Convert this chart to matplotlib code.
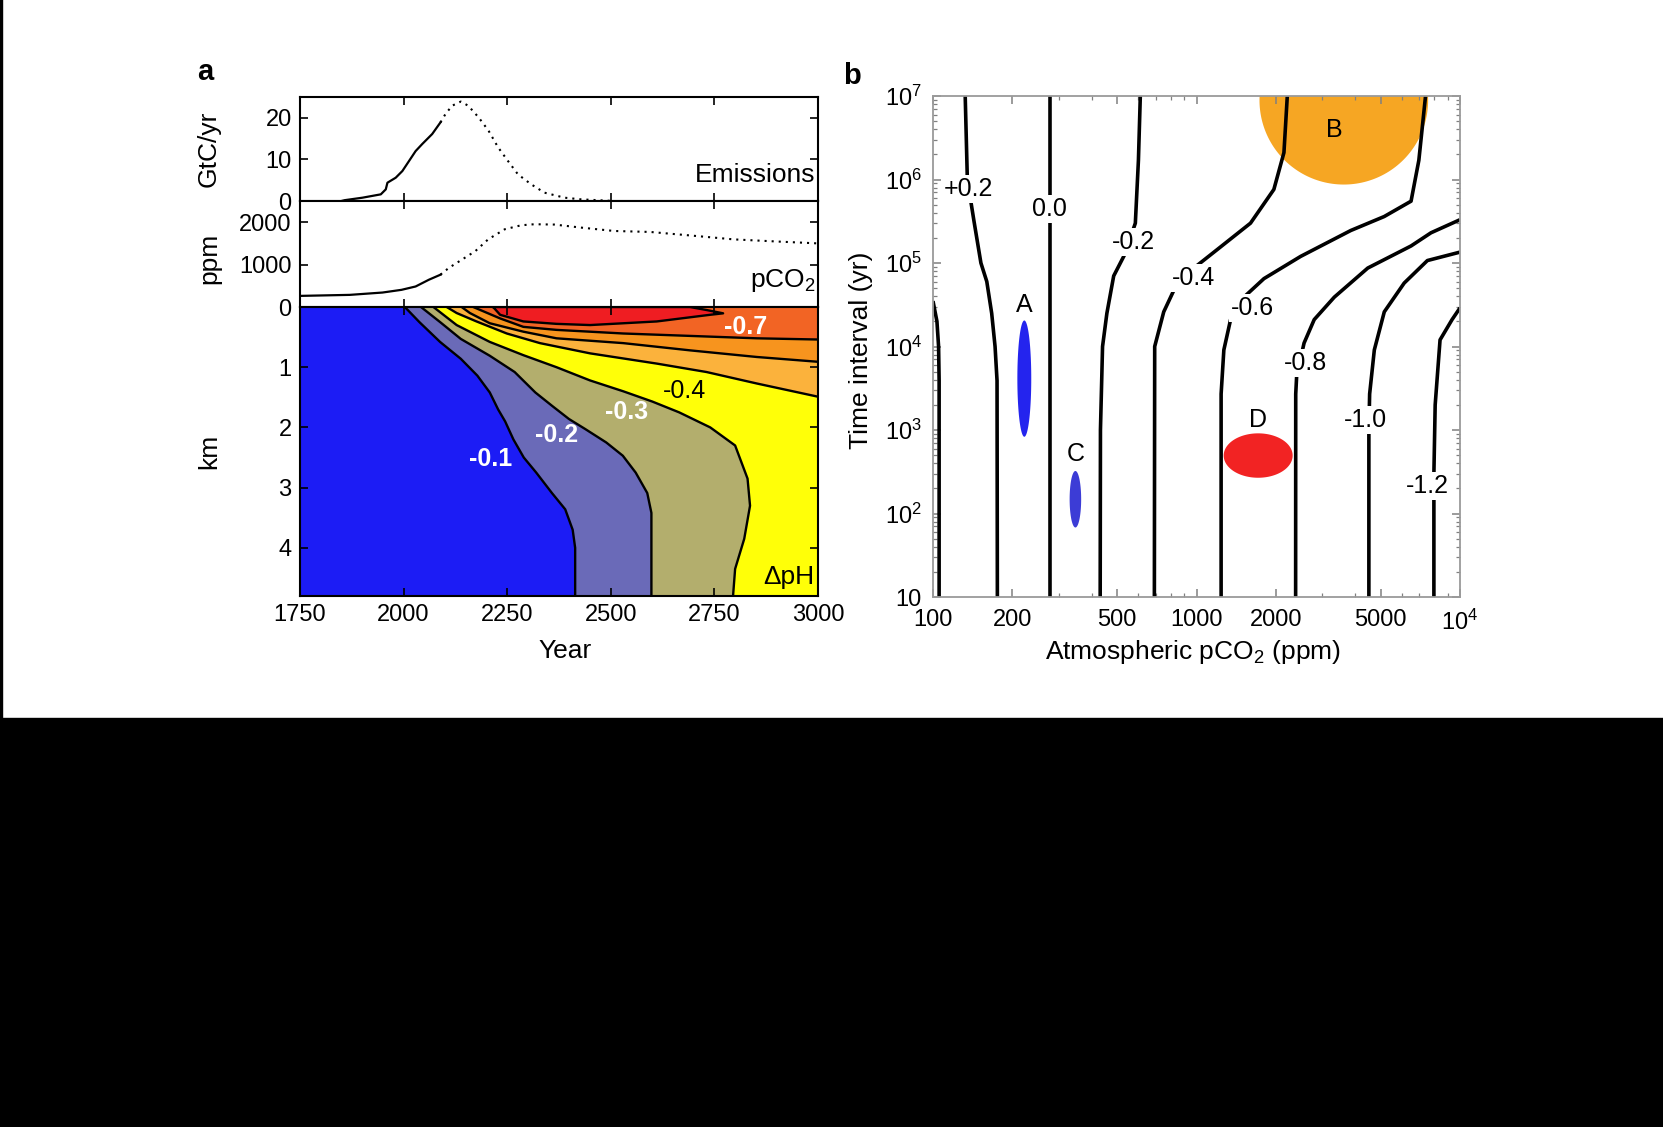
import numpy as np
import matplotlib
matplotlib.use('Agg')
import matplotlib.pyplot as plt
from matplotlib.patches import Rectangle

plt.rcParams['font.family'] = ['Liberation Sans', 'DejaVu Sans']
plt.rcParams['mathtext.fontset'] = 'custom'
plt.rcParams['mathtext.rm'] = 'Liberation Sans'
plt.rcParams['mathtext.it'] = 'Liberation Sans:italic'
plt.rcParams['mathtext.bf'] = 'Liberation Sans:bold'

# ---------------- Panel a data ----------------
emis_year = [1850, 1858, 1901, 1945, 1957, 1961, 1981, 1997, 2013, 2029, 2045, 2069, 2089,
             2101, 2117, 2138, 2156, 2181, 2205, 2228, 2252, 2276, 2308, 2340, 2388, 2428, 2508]
emis_gtc = [0.0, 0.2, 0.8, 1.6, 2.8, 4.4, 5.6, 7.2, 9.6, 12.0, 13.7, 16.1, 18.9,
            20.9, 22.9, 23.9, 22.9, 20.1, 16.9, 12.9, 9.6, 6.4, 4.0, 2.0, 0.8, 0.4, 0.0]
co2_year = [1750, 1870, 1949, 1995, 2029, 2061, 2089, 2109, 2141, 2173, 2204, 2244, 2284,
            2316, 2364, 2428, 2508, 2595, 2700, 2796, 2900, 3000]
co2_ppm = [262, 286, 341, 405, 484, 643, 762, 921, 1119, 1317, 1595, 1833, 1928,
           1952, 1944, 1873, 1793, 1770, 1680, 1595, 1545, 1500]
hist_end = 2095

# Delta pH contour boundaries (year, depth km)
c01_year = [2003, 2038, 2088, 2138, 2178, 2208, 2228, 2245, 2265, 2290, 2320, 2358, 2390, 2408, 2414, 2414]
c01_km = [0, 0.25, 0.58, 0.86, 1.14, 1.42, 1.70, 1.90, 2.20, 2.50, 2.75, 3.09, 3.36, 3.70, 4.0, 4.8]
c02_year = [2042, 2088, 2138, 2208, 2268, 2318, 2358, 2399, 2439, 2489, 2529, 2560, 2588, 2598, 2598, 2598]
c02_km = [0, 0.25, 0.53, 0.81, 1.08, 1.42, 1.64, 1.86, 2.03, 2.25, 2.47, 2.75, 3.09, 3.42, 3.98, 4.8]
c03_year = [2072, 2128, 2208, 2289, 2369, 2450, 2530, 2600, 2665, 2740, 2800, 2830, 2836, 2822, 2800, 2795]
c03_km = [0, 0.30, 0.58, 0.80, 1.00, 1.22, 1.40, 1.57, 1.75, 2.0, 2.3, 2.85, 3.3, 3.85, 4.35, 4.8]
c04_year = [2104, 2128, 2176, 2249, 2329, 2450, 2611, 2731, 2852, 3000]
c04_km = [0, 0.10, 0.24, 0.44, 0.60, 0.77, 0.94, 1.08, 1.27, 1.49]
c05_year = [2140, 2160, 2208, 2289, 2369, 2530, 2691, 2852, 3000]
c05_km = [0, 0.10, 0.27, 0.41, 0.52, 0.60, 0.72, 0.83, 0.91]
c06_year = [2168, 2233, 2289, 2369, 2530, 2691, 2852, 3000]
c06_km = [0, 0.19, 0.33, 0.38, 0.44, 0.48, 0.52, 0.54]
c07_year = [2216, 2233, 2289, 2369, 2450, 2611, 2739, 2771, 2731, 2691]
c07_km = [0, 0.13, 0.24, 0.28, 0.30, 0.24, 0.13, 0.105, 0.05, 0]

band_colors = ['#1C1CF5', '#6A6AB8', '#B3AE6D', '#FFFF08', '#FBB23C', '#F7941E', '#F26424', '#EF1D22']

a_labels = ['-0.1', '-0.2', '-0.3', '-0.4', '-0.7']
a_label_year = [2211, 2370, 2537, 2677, 2825]
a_label_km = [2.53, 2.13, 1.74, 1.39, 0.33]
a_label_white = [True, True, True, False, True]

# ---------------- Panel b data ----------------
b_lines = [
    ([105.5, 105.5, 105, 103.5, 100], [10, 3.9e3, 1e4, 2e4, 3.5e4]),
    ([175.5, 175, 172, 167, 160, 152, 143, 135, 132.5], [10, 3.9e3, 1e4, 2.5e4, 6e4, 1e5, 3.2e5, 1e6, 1e7]),
    ([277, 277], [10, 1e7]),
    ([431, 432, 440, 457, 485, 533, 586, 602, 612], [10, 1e3, 1e4, 2.5e4, 7e4, 1.25e5, 3e5, 1.7e6, 1e7]),
    ([692, 694, 751, 845, 977, 1199, 1603, 1966, 2147, 2211],
     [10, 1e4, 2.6e4, 5.75e4, 8.7e4, 1.45e5, 3e5, 7.6e5, 2.1e6, 1e7]),
    ([1240, 1240, 1270, 1347, 1513, 1803, 2485, 3850, 5155, 6520, 6980, 7400],
     [10, 2.7e3, 9.1e3, 2.1e4, 3.9e4, 6.5e4, 1.2e5, 2.45e5, 3.6e5, 5.5e5, 1.7e6, 1e7]),
    ([2378, 2380, 2400, 2560, 2797, 3334, 4467, 6520, 7760, 10000],
     [10, 2.7e3, 4.5e3, 1.1e4, 2.1e4, 3.9e4, 8.7e4, 1.6e5, 2.3e5, 3.3e5]),
    ([4510, 4510, 4540, 4730, 5160, 6140, 7520, 10000],
     [10, 1e3, 2.7e3, 9.1e3, 2.6e4, 5.75e4, 1.07e5, 1.35e5]),
    ([7960, 7960, 8050, 8400, 9330, 10000], [10, 300, 2e3, 1.2e4, 2.1e4, 2.9e4]),
]
b_labels = ['+0.2', '0.0', '-0.2', '-0.4', '-0.6', '-0.8', '-1.0', '-1.2']
b_label_ppm = [136, 277, 575, 975, 1633, 2595, 4395, 7550]
b_label_t = [7.6e5, 4.4e5, 1.8e5, 6.6e4, 2.9e4, 6.3e3, 1.3e3, 214]

events = ['A', 'B', 'C', 'D']
event_ppm_lo = [209, 1734, 330, 1268]
event_ppm_hi = [236, 7570, 365, 2317]
event_t_lo = [830, 8.7e5, 68, 268]
event_t_hi = [2.05e4, 9.1e7, 323, 912]
event_colors = ['#2424EE', '#F6A623', '#3C3CD6', '#F22323']

# ---------------- Figure ----------------
W, H = 1663, 1127
fig = plt.figure(figsize=(W / 100, H / 100), dpi=100)
fig.patch.set_facecolor('white')

def fx(px):
    return px / W

def fy(py):
    return 1 - py / H

FS_TICK = 17
FS_LAB = 19

ax_e = fig.add_axes([fx(300), fy(201), fx(518), 104 / H])
ax_c = fig.add_axes([fx(300), fy(307), fx(518), 106 / H])
ax_p = fig.add_axes([fx(300), fy(596), fx(518), 289 / H])
ax_b = fig.add_axes([fx(933), fy(597), fx(527), 501 / H])

year_ticks = [1750, 2000, 2250, 2500, 2750, 3000]
for ax in (ax_e, ax_c, ax_p):
    ax.set_xlim(1750, 3000)
    ax.set_xticks(year_ticks)
    ax.tick_params(direction='in', top=True, right=True, length=6, width=1.2,
                   labelsize=FS_TICK, pad=6)
    for s in ax.spines.values():
        s.set_linewidth(1.5)

# emissions
ax_e.set_ylim(0, 25)
ax_e.set_yticks([0, 10, 20])
ax_e.set_xticklabels([])
ey = np.array(emis_year); ev = np.array(emis_gtc)
m = ey <= hist_end
ax_e.plot(ey[m], ev[m], color='black', lw=1.6)
m2 = ey >= 2089
ax_e.plot(ey[m2], ev[m2], color='black', lw=1.5, linestyle=(0, (1, 2.4)))
ax_e.text(0.995, 0.25, 'Emissions', transform=ax_e.transAxes, ha='right', va='center',
          fontsize=FS_LAB)

# pCO2
ax_c.set_ylim(0, 2500)
ax_c.set_yticks([1000, 2000])
ax_c.set_xticklabels([])
cy = np.array(co2_year); cv = np.array(co2_ppm)
m = cy <= hist_end
ax_c.plot(cy[m], cv[m], color='black', lw=1.6)
m2 = cy >= 2089
ax_c.plot(cy[m2], cv[m2], color='black', lw=1.5, linestyle=(0, (1, 2.4)))
ax_c.text(0.995, 0.25, 'pCO$_2$', transform=ax_c.transAxes, ha='right', va='center',
          fontsize=FS_LAB)

# Delta pH section
ymax_km = 4.8
ax_p.set_ylim(ymax_km, 0)
ax_p.set_yticks([0, 1, 2, 3, 4])
ax_p.add_patch(Rectangle((1750, 0), 1250, ymax_km, color=band_colors[0], zorder=0, lw=0))
full_lines = [(c01_year, c01_km), (c02_year, c02_km), (c03_year, c03_km)]
edge_lines = [(c04_year, c04_km), (c05_year, c05_km), (c06_year, c06_km)]
k = 1
for yr, km in full_lines:
    xs = list(yr) + [3000, 3000]
    ys = list(km) + [ymax_km, 0]
    ax_p.fill(xs, ys, color=band_colors[k], lw=0, zorder=1)
    k += 1
for yr, km in edge_lines:
    xs = list(yr) + [3000]
    ys = list(km) + [0]
    ax_p.fill(xs, ys, color=band_colors[k], lw=0, zorder=1)
    k += 1
ax_p.fill(c07_year, c07_km, color=band_colors[7], lw=0, zorder=1)
for yr, km in full_lines + edge_lines:
    ax_p.plot(yr, km, color='black', lw=1.7, zorder=2)
ax_p.plot(list(c07_year) + [c07_year[0]], list(c07_km) + [c07_km[0]], color='black', lw=1.7, zorder=2)
for lab, x, y, wh in zip(a_labels, a_label_year, a_label_km, a_label_white):
    ax_p.text(x, y, lab, ha='center', va='center', fontsize=18,
              color='white' if wh else 'black', fontweight='bold' if wh else 'normal', zorder=3)
ax_p.text(0.993, 0.065, '\u0394pH', transform=ax_p.transAxes, ha='right', va='center',
          fontsize=FS_LAB, zorder=3)
for s in ax_p.spines.values():
    s.set_zorder(5)

# ---------------- Panel b ----------------
ax_b.set_xscale('log')
ax_b.set_yscale('log')
ax_b.set_xlim(100, 1e4)
ax_b.set_ylim(10, 1e7)
ax_b.set_xticks([100, 200, 500, 1000, 2000, 5000, 10000])
ax_b.set_xticklabels(['100', '200', '500', '1000', '2000', '5000', '$10^4$'])
ax_b.set_yticks([10, 1e2, 1e3, 1e4, 1e5, 1e6, 1e7])
ax_b.set_yticklabels(['10', '$10^2$', '$10^3$', '$10^4$', '$10^5$', '$10^6$', '$10^7$'])
ax_b.tick_params(which='both', direction='in', top=True, right=True, color='#808080',
                 labelsize=FS_TICK)
ax_b.tick_params(axis='x', which='both', pad=9)
ax_b.tick_params(axis='y', which='both', pad=8)
ax_b.tick_params(which='major', length=6, width=1.1)
ax_b.tick_params(which='minor', length=3, width=0.9)
for s in ax_b.spines.values():
    s.set_color('#9A9A9A')
    s.set_linewidth(1.3)
    s.set_zorder(5)

th = np.linspace(0, 2 * np.pi, 200)
for name, plo, phi, tlo, thi, col in zip(events, event_ppm_lo, event_ppm_hi, event_t_lo, event_t_hi, event_colors):
    cx = 0.5 * (np.log10(plo) + np.log10(phi)); rx = 0.5 * (np.log10(phi) - np.log10(plo))
    cyy = 0.5 * (np.log10(tlo) + np.log10(thi)); ry = 0.5 * (np.log10(thi) - np.log10(tlo))
    ax_b.fill(10 ** (cx + rx * np.cos(th)), 10 ** (cyy + ry * np.sin(th)), color=col, lw=0, zorder=1)
    if name == 'B':
        ax_b.annotate(name, (10 ** cx, 10 ** cyy), xytext=(-10, -30), textcoords='offset pixels',
                      ha='center', va='center', fontsize=18, zorder=4)
    else:
        off = {'A': 15, 'C': 17, 'D': 13}[name]
        ax_b.annotate(name, (10 ** cx, thi), xytext=(0, off), textcoords='offset pixels',
                      ha='center', va='center', fontsize=18, zorder=4)

for ppm, t in b_lines:
    ax_b.plot(ppm, t, color='black', lw=2.6, zorder=2, solid_capstyle='butt')
for lab, x, y in zip(b_labels, b_label_ppm, b_label_t):
    ax_b.text(x, y, lab, ha='center', va='center', fontsize=18, zorder=3,
              bbox=dict(boxstyle='square,pad=0.08', fc='white', ec='none'))

# ---------------- Labels ----------------
fig.text(fx(205), fy(72), 'a', fontsize=21, fontweight='bold', ha='center', va='center')
fig.text(fx(852), fy(76), 'b', fontsize=21, fontweight='bold', ha='center', va='center')
fig.text(fx(209), fy(149), 'GtC/yr', rotation=90, fontsize=FS_LAB, ha='center', va='center')
fig.text(fx(209), fy(258), 'ppm', rotation=90, fontsize=FS_LAB, ha='center', va='center')
fig.text(fx(209), fy(451), 'km', rotation=90, fontsize=FS_LAB, ha='center', va='center')
fig.text(fx(565), fy(651), 'Year', fontsize=FS_LAB, ha='center', va='center')
fig.text(fx(861), fy(350), 'Time interval (yr)', rotation=90, fontsize=FS_LAB, ha='center', va='center')
fig.text(fx(1193), fy(652), 'Atmospheric pCO$_2$ (ppm)', fontsize=FS_LAB, ha='center', va='center')

# black frame areas of the original screenshot
fig.patches.append(Rectangle((0, 0), 1, 409 / H, transform=fig.transFigure, color='black', zorder=-1))
fig.patches.append(Rectangle((0, 409 / H), 2 / W, 1, transform=fig.transFigure, color='black', zorder=-1))

fig.savefig('out.png', dpi=100, facecolor='white')
